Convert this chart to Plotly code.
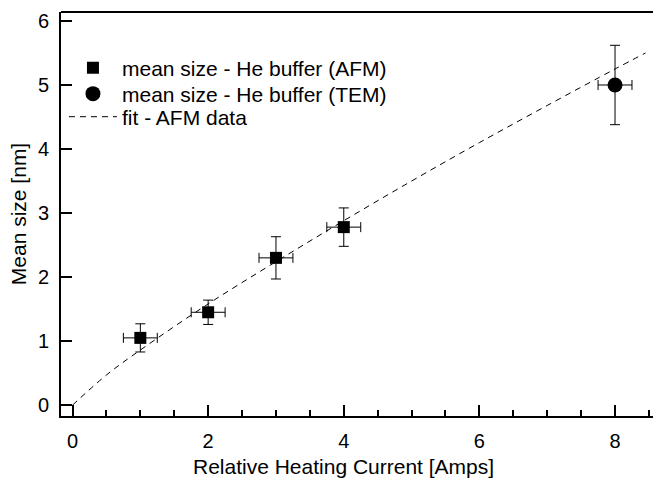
import plotly.graph_objects as go

# AFM data
afm_x = [1, 2, 3, 4]
afm_y = [1.05, 1.45, 2.30, 2.78]
afm_yerr = [0.22, 0.19, 0.33, 0.30]
afm_xerr = [0.25, 0.25, 0.25, 0.25]

# TEM data
tem_x = [8]
tem_y = [5.0]
tem_yerr = [0.62]
tem_xerr = [0.25]

# fit line
fit_x = [0, 0.5, 1, 2, 3, 4, 5, 6, 7, 8, 8.45]
fit_y = [0.0, 0.47, 0.86, 1.58, 2.24, 2.88, 3.50, 4.10, 4.68, 5.25, 5.50]

x_ticks = [0, 2, 4, 6, 8]
y_ticks = [0, 1, 2, 3, 4, 5, 6]

FONT = "Liberation Sans, Arial, Helvetica, sans-serif"

fig = go.Figure()
fig.add_trace(go.Scatter(
    x=afm_x, y=afm_y, mode="markers", name="mean size - He buffer (AFM)",
    marker=dict(symbol="square", size=12, color="black"),
    error_y=dict(type="data", array=afm_yerr, color="black", thickness=1, width=5),
    error_x=dict(type="data", array=afm_xerr, color="black", thickness=1, width=5),
    legend="legend",
))
fig.add_trace(go.Scatter(
    x=tem_x, y=tem_y, mode="markers", name="mean size - He buffer (TEM)",
    marker=dict(symbol="circle", size=15, color="black"),
    error_y=dict(type="data", array=tem_yerr, color="black", thickness=1, width=5),
    error_x=dict(type="data", array=tem_xerr, color="black", thickness=1, width=5),
    legend="legend2",
))
fig.add_trace(go.Scatter(
    x=fit_x, y=fit_y, mode="lines", name="fit - AFM data",
    line=dict(color="black", width=1, dash="6px,5px", shape="spline"),
    legend="legend3",
))

leg_common = dict(x=0.005, xanchor="left", yanchor="middle", bgcolor="rgba(0,0,0,0)",
                  font=dict(size=21), itemwidth=48, borderwidth=0)

fig.update_layout(
    width=653, height=478,
    margin=dict(l=61, r=0, t=12, b=62),
    paper_bgcolor="white", plot_bgcolor="white",
    font=dict(family=FONT, size=20, color="black"),
    showlegend=True,
    legend=dict(y=0.861, **leg_common),
    legend2=dict(y=0.797, **leg_common),
    legend3=dict(y=0.740, **leg_common),
    shapes=[dict(type="line", xref="paper", yref="paper", x0=0, x1=1, y0=1, y1=1,
                 line=dict(color="black", width=2))],
    annotations=[dict(text="Relative Heating Current [Amps]", xref="paper", yref="paper",
                      x=0.478, y=-0.124, xanchor="center", yanchor="middle",
                      showarrow=False, font=dict(size=21))],
)
fig.update_xaxes(
    range=[-0.17, 8.56], tickvals=x_ticks, ticks="inside", ticklen=11, tickwidth=2,
    tickcolor="black", showline=True, linecolor="black", linewidth=2,
    showgrid=False, zeroline=False,
    minor=dict(dtick=0.5, tick0=0, ticks="inside", ticklen=6, tickwidth=2, tickcolor="black"),
    ticklabelstandoff=6,
)
fig.update_yaxes(
    range=[-0.17, 6.14], tickvals=y_ticks, ticks="inside", ticklen=11, tickwidth=2,
    tickcolor="black", showline=True, linecolor="black", linewidth=2,
    showgrid=False, zeroline=False,
    title=dict(text="Mean size [nm]", standoff=6, font=dict(size=21)),
    ticklabelstandoff=6,
)

fig.write_html("out.html")
